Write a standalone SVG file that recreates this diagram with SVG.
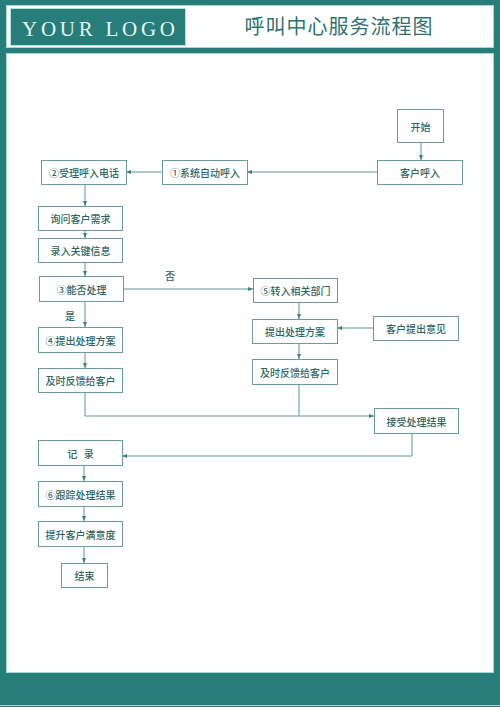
<svg xmlns="http://www.w3.org/2000/svg" width="500" height="707" viewBox="0 0 500 707">
<style>
.box{fill:#ffffff;stroke:#6a9c9a;stroke-width:1}
.t{font-family:"Noto Sans CJK SC","Noto Sans CJK TC",sans-serif;font-size:10px;font-weight:500;fill:#2f6664;text-anchor:middle;dominant-baseline:central}
.c{fill:none;stroke:#5f9593;stroke-width:1}
</style>
<defs>
<marker id="ah" viewBox="0 0 10 10" refX="10" refY="5" markerWidth="5" markerHeight="5" orient="auto" markerUnits="userSpaceOnUse">
<path d="M0,1 L10,5 L0,9 z" fill="#3f7f7c"/>
</marker>
</defs>
<rect x="0" y="0" width="500" height="707" fill="#267d7a"/>
<rect x="6.5" y="5.5" width="487" height="42" fill="#ffffff" stroke="#a9d8d4" stroke-width="1"/>
<rect x="10.5" y="8.5" width="175" height="37" fill="#267d7a" stroke="#b8e0dc" stroke-width="1"/>
<text x="22" y="36" font-family="Liberation Serif, serif" font-size="21" textLength="153" lengthAdjust="spacing" fill="#e6f4f2">YOUR LOGO</text>
<text x="339" y="34" font-family="Noto Sans CJK SC, sans-serif" font-size="20" letter-spacing="1" fill="#2d7370" text-anchor="middle">呼叫中心服务流程图</text>
<rect x="6.5" y="53.5" width="487" height="619" fill="#ffffff" stroke="#a9d8d4" stroke-width="1"/>
<line x1="0" y1="705.5" x2="500" y2="705.5" stroke="#a9d8d4" stroke-width="1"/>

<g id="connectors">
<line class="c" x1="421" y1="142" x2="421" y2="160" marker-end="url(#ah)"/>
<line class="c" x1="377" y1="172" x2="247" y2="172" marker-end="url(#ah)"/>
<line class="c" x1="162" y1="172" x2="126" y2="172" marker-end="url(#ah)"/>
<line class="c" x1="85" y1="184" x2="85" y2="206" marker-end="url(#ah)"/>
<line class="c" x1="85" y1="230" x2="85" y2="238" marker-end="url(#ah)"/>
<line class="c" x1="85" y1="263" x2="85" y2="276" marker-end="url(#ah)"/>
<line class="c" x1="123" y1="289" x2="253" y2="289" marker-end="url(#ah)"/>
<line class="c" x1="85" y1="301" x2="85" y2="327" marker-end="url(#ah)"/>
<line class="c" x1="85" y1="352" x2="85" y2="368" marker-end="url(#ah)"/>
<line class="c" x1="299" y1="302" x2="299" y2="319" marker-end="url(#ah)"/>
<line class="c" x1="373" y1="328" x2="337" y2="328" marker-end="url(#ah)"/>
<line class="c" x1="299" y1="343" x2="299" y2="359" marker-end="url(#ah)"/>
<polyline class="c" points="85,392 85,416 374,416" marker-end="url(#ah)"/>
<line class="c" x1="299" y1="384" x2="299" y2="416"/>
<polyline class="c" points="412,433 412,456 122,456" marker-end="url(#ah)"/>
<line class="c" x1="84" y1="465" x2="84" y2="481" marker-end="url(#ah)"/>
<line class="c" x1="84" y1="506" x2="84" y2="521" marker-end="url(#ah)"/>
<line class="c" x1="84" y1="546" x2="84" y2="563" marker-end="url(#ah)"/>
<text class="t" x="170" y="275">否</text>
<text class="t" x="70" y="315">是</text>
</g>

<g id="start"><rect class="box" x="397.5" y="109.5" width="46" height="33"/><text class="t" x="420.5" y="126">开始</text></g>
<g id="customer-call"><rect class="box" x="377.5" y="160.5" width="85" height="24"/><text class="t" x="420" y="172.5">客户呼入</text></g>
<g id="auto-call"><rect class="box" x="162.5" y="160.5" width="85" height="24"/><text class="t" x="205" y="172.5">①系统自动呼入</text></g>
<g id="accept-call"><rect class="box" x="41.5" y="160.5" width="85" height="24"/><text class="t" x="84" y="172.5">②受理呼入电话</text></g>
<g id="ask-needs"><rect class="box" x="38.5" y="206.5" width="84" height="24"/><text class="t" x="80.5" y="218.5">询问客户需求</text></g>
<g id="enter-info"><rect class="box" x="38.5" y="238.5" width="84" height="24"/><text class="t" x="80.5" y="250.5">录入关键信息</text></g>
<g id="can-handle"><rect class="box" x="39.5" y="276.5" width="84" height="25"/><text class="t" x="81.5" y="289">③能否处理</text></g>
<g id="transfer"><rect class="box" x="253.5" y="278.5" width="84" height="24"/><text class="t" x="295.5" y="290.5">⑤转入相关部门</text></g>
<g id="plan-left"><rect class="box" x="38.5" y="327.5" width="84" height="25"/><text class="t" x="80.5" y="340">④提出处理方案</text></g>
<g id="plan-right"><rect class="box" x="252.5" y="319.5" width="85" height="24"/><text class="t" x="295" y="331.5">提出处理方案</text></g>
<g id="customer-opinion"><rect class="box" x="373.5" y="316.5" width="85" height="24"/><text class="t" x="416" y="328.5">客户提出意见</text></g>
<g id="feedback-left"><rect class="box" x="38.5" y="368.5" width="84" height="24"/><text class="t" x="80.5" y="380.5">及时反馈给客户</text></g>
<g id="feedback-right"><rect class="box" x="252.5" y="359.5" width="85" height="25"/><text class="t" x="295" y="372">及时反馈给客户</text></g>
<g id="accept-result"><rect class="box" x="374.5" y="408.5" width="84" height="25"/><text class="t" x="416.5" y="421">接受处理结果</text></g>
<g id="record"><rect class="box" x="38.5" y="440.5" width="84" height="25"/><text class="t" x="80.5" y="453" xml:space="preserve">记   录</text></g>
<g id="track"><rect class="box" x="38.5" y="481.5" width="84" height="25"/><text class="t" x="80.5" y="494">⑥跟踪处理结果</text></g>
<g id="satisfaction"><rect class="box" x="38.5" y="521.5" width="84" height="25"/><text class="t" x="80.5" y="534">提升客户满意度</text></g>
<g id="end"><rect class="box" x="61.5" y="563.5" width="46" height="24"/><text class="t" x="84.5" y="575.5">结束</text></g>
</svg>
